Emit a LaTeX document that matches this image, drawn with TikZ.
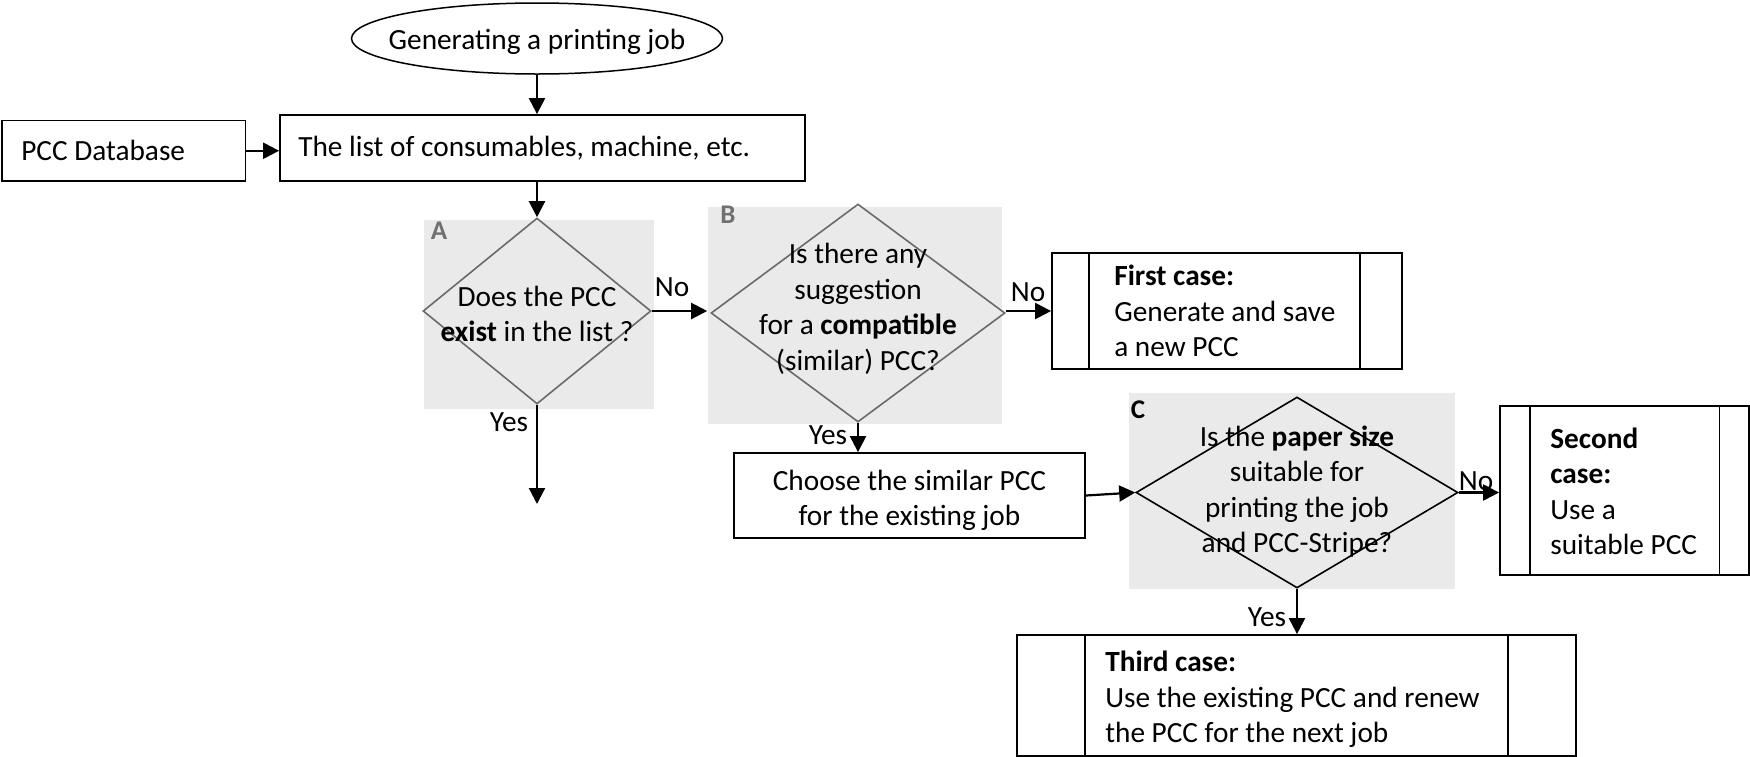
\documentclass[tikz,border=0pt]{standalone}
\usepackage{fontspec}
\setmainfont{Carlito}
\usetikzlibrary{shapes.geometric,arrows.meta}
\definecolor{zonegray}{HTML}{EAEAEA}
\definecolor{darkline}{HTML}{6A6A6A}
\definecolor{zonelabel}{HTML}{707070}
\begin{document}
\begin{tikzpicture}[x=1pt,y=-1pt,
  every node/.style={font=\fontsize{29.3}{35.5}\selectfont},
  box/.style={draw,line width=1.8pt,rectangle,inner sep=0pt},
  boxtext/.style={anchor=west,align=left,inner sep=0pt},
  term/.style={draw,line width=1.5pt,ellipse,inner sep=0pt,minimum width=371pt,minimum height=71pt},
  dia/.style={draw,line width=1.6pt,diamond,inner sep=0pt},
  zone/.style={fill=zonegray},
  zonetag/.style={font=\fontsize{27}{30}\selectfont\bfseries},
  bar/.style={line width=1.8pt},
  flow/.style={line width=2.2pt,-{Triangle[length=16pt,width=16pt]}},
  ans/.style={inner sep=0pt}
]
\useasboundingbox (0,0) rectangle (1750,756);

% shaded decision zones
\fill[zone] (424,220) rectangle (654,408.5);
\fill[zone] (707.5,206.5) rectangle (1002,424);
\fill[zone] (1129,393) rectangle (1455,589);
\node[zonetag,text=zonelabel] (tagA) at (439,231) {A};
\node[zonetag,text=zonelabel] (tagB) at (728,215) {B};
\node[zonetag] (tagC) at (1138,410) {C};

% start
\node[term,label={[yshift=-3pt]center:Generating a printing job}] (start) at (537,38.5) {};

% input boxes
\node[box,minimum width=243.5pt,minimum height=60.5pt] (db) at (123.75,150.75) {};
\node[boxtext] (db-t) at ([xshift=20pt]db.west) {PCC Database};
\node[box,minimum width=525pt,minimum height=66pt] (list) at (542.5,148) {};
\node[boxtext] (list-t) at ([xshift=19pt]list.west) {The list of consumables, machine, etc.};

% decisions
\node[dia,draw=darkline,minimum width=228pt,minimum height=186pt,
  label={[align=center,yshift=-3pt]center:Does the PCC\\\textbf{exist} in the list ?}] (dA) at (537,311) {};
\node[dia,draw=darkline,minimum width=294pt,minimum height=218pt,
  label={[align=center,yshift=4pt]center:Is there any\\suggestion\\for a \textbf{compatible}\\(similar) PCC?}] (dB) at (858,313) {};
\node[dia,minimum width=322pt,minimum height=191pt,
  label={[align=center,yshift=1pt]center:Is the \textbf{paper size}\\suitable for\\printing the job\\and PCC-Stripe?}] (dC) at (1297,492.5) {};

% outcome boxes
\node[box,minimum width=350pt,minimum height=116pt] (first) at (1227,311) {};
\node[boxtext] (first-t) at ([xshift=63pt]first.west) {\textbf{First case:}\\Generate and save\\a new PCC};
\node[box,minimum width=351pt,minimum height=85pt] (choose) at (909.5,495.5) {};
\node[align=center,inner sep=0pt] (choose-t) at ([yshift=-5pt]choose.center) {Choose the similar PCC\\for the existing job};
\node[box,minimum width=249pt,minimum height=169pt] (second) at (1624.5,490.5) {};
\node[boxtext] (second-t) at ([xshift=51pt,yshift=-1pt]second.west) {\textbf{Second}\\\textbf{case:}\\Use a\\suitable PCC};
\node[box,minimum width=559pt,minimum height=121pt] (third) at (1296.5,695.5) {};
\node[boxtext] (third-t) at ([xshift=89pt,yshift=-4pt]third.west) {\textbf{Third case:}\\Use the existing PCC and renew\\the PCC for the next job};

% side bars of the predefined-process boxes
\draw[bar] ([xshift=38pt]first.north west) -- ([xshift=38pt]first.south west);
\draw[bar] ([xshift=-43pt]first.north east) -- ([xshift=-43pt]first.south east);
\draw[bar] ([xshift=31pt]second.north west) -- ([xshift=31pt]second.south west);
\draw[bar] ([xshift=-30.5pt]second.north east) -- ([xshift=-30.5pt]second.south east);
\draw[bar] ([xshift=69pt]third.north west) -- ([xshift=69pt]third.south west);
\draw[bar] ([xshift=-69pt]third.north east) -- ([xshift=-69pt]third.south east);

% connectors
\coordinate (yesEnd) at (537,504);
\draw[flow] (start.south) -- (start.south |- list.north);
\draw[flow] (db.east) -- (db.east -| list.west);
\draw[flow] (list.south -| dA.north) -- (dA.north);
\draw[flow] (dA.east) -- ([xshift=-3pt]dB.west |- dA.east);
\draw[flow] (dA.south) -- (yesEnd);
\draw[flow] (dB.east |- first.west) -- (first.west);
\draw[flow] (dB.south) -- (dB.south |- choose.north);
\draw[flow] (choose.east) -- (dC.west);
\draw[flow] (dC.east) -- (dC.east -| second.west);
\draw[flow] (dC.south) -- (dC.south |- third.north);

% answer labels
\node[ans] (noA) at (672,287) {No};
\node[ans] (yesA) at (509,422) {Yes};
\node[ans] (noB) at (1028,292) {No};
\node[ans] (yesB) at (828,435) {Yes};
\node[ans] (noC) at (1476,481) {No};
\node[ans] (yesC) at (1267,617) {Yes};
\end{tikzpicture}
\end{document}
